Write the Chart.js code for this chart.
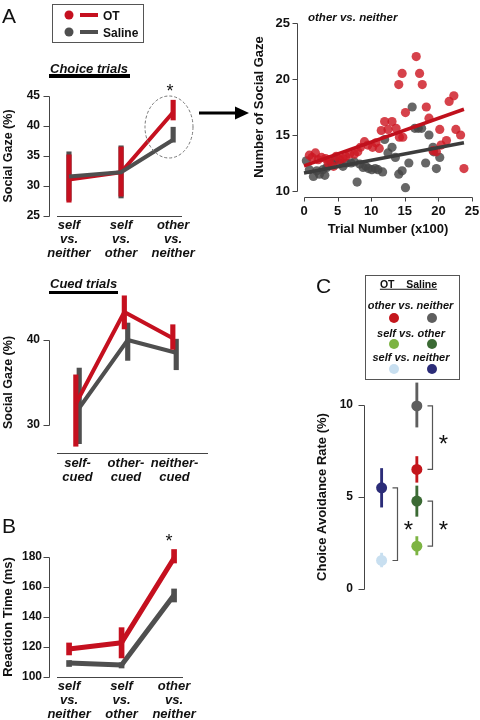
<!DOCTYPE html>
<html>
<head>
<meta charset="utf-8">
<title>Social gaze figure</title>
<script src="https://cdn.jsdelivr.net/npm/chart.js@4.4.1/dist/chart.umd.min.js"></script>
<style>
  html, body { margin: 0; padding: 0; background: #fff; }
  #fig { position: relative; width: 480px; height: 720px; overflow: hidden;
         font-family: 'Liberation Sans', Arial, sans-serif; color: #111; }
  #fig canvas { position: absolute; }
  .t { position: absolute; white-space: nowrap; line-height: 1; transform: translate(-50%, -50%); }
  .t.l { transform: translate(0, -50%); }
  .b { font-weight: bold; }
  .bi { font-weight: bold; font-style: italic; }
  .letter { font-size: 21px; }
  .star { font-size: 18px; }
  .box { position: absolute; border: 1px solid #555; box-sizing: border-box; }
  .dot { position: absolute; width: 10px; height: 10px; border-radius: 50%; transform: translate(-50%, -50%); }
  .rule { position: absolute; }
  svg { position: absolute; left: 0; top: 0; }
</style>
</head>
<body>
<div id="fig">
  <canvas id="choiceChart" width="200" height="190" style="left:0;top:80px"></canvas>
  <canvas id="gazeChart" width="260" height="245" style="left:245px;top:0"></canvas>
  <canvas id="cuedChart" width="225" height="215" style="left:0;top:280px"></canvas>
  <canvas id="rtChart" width="200" height="190" style="left:0;top:530px"></canvas>
  <canvas id="avoidChart" width="160" height="225" style="left:310px;top:375px"></canvas>

  <svg width="480" height="720">
    <ellipse cx="169" cy="127" rx="24" ry="31" fill="none" stroke="#777" stroke-width="1" stroke-dasharray="3 2"/>
    <line x1="199" y1="113" x2="238" y2="113" stroke="#000" stroke-width="3"/>
    <polygon points="235,106.5 249,113 235,119.5" fill="#000"/>
  </svg>

  <!-- panel A -->
  <div class="t letter" style="left:9px;top:15px">A</div>
  <div class="box" style="left:52px;top:4px;width:92px;height:39px"></div>
  <div class="dot" style="left:69px;top:15px;width:9px;height:9px;background:#c5101f"></div>
  <div class="rule" style="left:80px;top:13px;width:18px;height:4px;background:#c5101f"></div>
  <div class="t l b" style="left:103px;top:15.5px;font-size:12px">OT</div>
  <div class="dot" style="left:69px;top:32px;width:9px;height:9px;background:#4f4f4f"></div>
  <div class="rule" style="left:80px;top:30px;width:18px;height:4px;background:#4f4f4f"></div>
  <div class="t l b" style="left:103px;top:32.5px;font-size:12px">Saline</div>

  <div class="t l bi" style="left:50px;top:67.5px;font-size:13px">Choice trials</div>
  <div class="rule" style="left:49px;top:74px;width:81px;height:3.5px;background:#000"></div>
  <div class="t star" style="left:170px;top:91px">*</div>

  <div class="t l bi" style="left:308px;top:17.5px;font-size:11.5px">other vs. neither</div>

  <div class="t l bi" style="left:50px;top:283px;font-size:13px">Cued trials</div>
  <div class="rule" style="left:49px;top:291px;width:69px;height:3px;background:#000"></div>

  <!-- panel B -->
  <div class="t letter" style="left:9px;top:525px">B</div>
  <div class="t star" style="left:169px;top:541px">*</div>

  <!-- panel C -->
  <div class="t letter" style="left:323.5px;top:285px">C</div>
  <div class="box" style="left:365px;top:275px;width:95px;height:105px"></div>
  <div class="t b" style="left:408.5px;top:284px;font-size:10.5px;text-decoration:underline">OT&nbsp;&nbsp;&nbsp;&nbsp;Saline</div>
  <div class="t bi" style="left:410.5px;top:305px;font-size:11px">other vs. neither</div>
  <div class="dot" style="left:394px;top:318px;background:#c4161c"></div>
  <div class="dot" style="left:432px;top:318px;background:#5e5e5e"></div>
  <div class="t bi" style="left:411px;top:333px;font-size:11px">self vs. other</div>
  <div class="dot" style="left:394px;top:344px;background:#7db443"></div>
  <div class="dot" style="left:432px;top:344px;background:#3b6a34"></div>
  <div class="t bi" style="left:411px;top:357px;font-size:11px">self vs. neither</div>
  <div class="dot" style="left:394px;top:369px;background:#c8dff0"></div>
  <div class="dot" style="left:432px;top:369px;background:#2b2c78"></div>
</div>

<script>
// ---- values ----
const choiceCats = [['self', 'vs.', 'neither'], ['self', 'vs.', 'other'], ['other', 'vs.', 'neither']];
const choiceTicks = [25, 30, 35, 40, 45];
const choiceOT = [31.1, 32.3, 42.3];
const choiceOTLo = [27.3, 28.3, 41.0];
const choiceOTHi = [35.2, 36.5, 44.3];
const choiceSal = [31.6, 32.3, 37.7];
const choiceSalLo = [27.6, 28.0, 37.3];
const choiceSalHi = [35.7, 36.7, 39.8];

const cuedCats = [['self-', 'cued'], ['other-', 'cued'], ['neither-', 'cued']];
const cuedTicks = [30, 40];
const cuedOT = [32.5, 43.3, 40.2];
const cuedOTLo = [27.5, 41.3, 38.9];
const cuedOTHi = [35.9, 45.2, 41.8];
const cuedSal = [32.0, 40.0, 38.5];
const cuedSalLo = [27.8, 37.6, 36.5];
const cuedSalHi = [36.7, 42.0, 40.1];

const rtCats = [['self', 'vs.', 'neither'], ['self', 'vs.', 'other'], ['other', 'vs.', 'neither']];
const rtTicks = [100, 120, 140, 160, 180];
const rtOT = [118.7, 122.9, 179.3];
const rtOTLo = [114.7, 112.7, 176.0];
const rtOTHi = [122.7, 132.9, 185.0];
const rtSal = [109.3, 108.0, 154.7];
const rtSalLo = [107.0, 106.0, 150.0];
const rtSalHi = [111.0, 109.5, 158.7];

const gazeXTicks = [0, 5, 10, 15, 20, 25];
const gazeYTicks = [10, 15, 20, 25];
const gazeOTTrial = [0.8, 1.2, 1.7, 2.1, 2.6, 3.2, 3.6, 3.8, 4.4, 4.8, 5.3, 5.8, 6.2, 6.8, 7.5, 8.0,
  8.4, 9.0, 9.5, 10.2, 10.7, 11.2, 11.5, 12.0, 12.5, 13.1, 13.7, 14.1, 14.2, 14.6, 14.7, 15.1,
  16.7, 17.2, 17.6, 18.2, 18.6, 19.2, 19.7, 20.2, 20.4, 21.2, 21.6, 22.3, 22.6, 23.3, 23.8];
const gazeOTCount = [13.2, 13.0, 13.4, 12.8, 13.0, 12.9, 12.5, 12.8, 12.2, 13.1, 12.8, 12.9, 13.1, 13.3, 13.3, 13.5,
  13.9, 14.4, 14.1, 13.9, 14.3, 13.8, 15.4, 16.2, 15.5, 16.2, 15.6, 19.5, 14.8, 20.5, 14.8, 17.0,
  22.0, 20.5, 19.5, 17.5, 16.5, 13.6, 13.5, 15.5, 14.1, 14.5, 18.0, 18.5, 15.5, 15.0, 12.0];
const gazeSalTrial = [0.35, 0.8, 1.4, 1.9, 2.3, 2.8, 3.1, 3.4, 4.1, 4.6, 5.3, 5.8, 6.3, 7.0, 7.5, 7.9,
  8.3, 8.8, 9.2, 9.6, 10.1, 10.6, 11.0, 11.7, 12.0, 12.5, 13.1, 13.6, 14.1, 14.6, 15.1,
  15.6, 16.1, 16.5, 17.0, 17.5, 18.1, 18.6, 19.2, 19.3, 19.7, 20.2];
const gazeSalCount = [12.7, 11.9, 11.3, 11.8, 11.5, 11.9, 11.4, 12.1, 12.5, 12.8, 12.5, 12.2, 12.5, 12.5, 12.6, 10.8,
  12.4, 12.1, 12.2, 12.0, 11.9, 12.0, 11.9, 11.7, 14.6, 13.4, 13.9, 13.0, 11.5, 11.8, 10.3,
  12.5, 17.5, 15.6, 15.6, 15.6, 12.5, 15.0, 13.9, 13.5, 12.0, 13.0];
const gazeFitTrial = [0, 23.8];
const gazeOTFit = [12.25, 17.3];
const gazeSalFit = [11.6, 14.3];

const avoidGroups = ['other vs. neither', 'self vs. other', 'self vs. neither'];
const avoidColumn = [2, 2, 1];
const avoidTicks = [0, 5, 10];
const avoidOT = [6.5, 2.33, 1.55];
const avoidOTLo = [5.8, 1.85, 1.2];
const avoidOTHi = [7.2, 2.85, 1.95];
const avoidSal = [9.95, 4.78, 5.5];
const avoidSalLo = [8.8, 3.95, 4.45];
const avoidSalHi = [11.2, 5.6, 6.55];

// ---- styling ----
const RED = '#c5101f';
const GREY = '#4f4f4f';
const avoidColorsOT = ['#c4161c', '#7db443', '#c8dff0'];
const avoidColorsSal = ['#5e5e5e', '#3b6a34', '#2b2c78'];

Chart.defaults.font.family = "'Liberation Sans', Arial, sans-serif";
Chart.defaults.color = '#111';
Chart.defaults.animation = false;
Chart.defaults.events = [];
Chart.defaults.plugins.legend.display = false;
Chart.defaults.plugins.tooltip.enabled = false;

// R-style axes: y line only between first and last tick, x line detached
const rAxes = {
  id: 'rAxes',
  afterDraw(chart, args, opts) {
    const { ctx, chartArea: area, scales } = chart;
    ctx.save();
    ctx.strokeStyle = '#444';
    ctx.lineWidth = 1;
    ctx.beginPath();
    if (opts.y) {
      const s = scales.y;
      const x = Math.round(area.left - opts.y.gap) + 0.5;
      const ys = s.ticks.map(t => Math.round(s.getPixelForValue(t.value)) + 0.5);
      ctx.moveTo(x, Math.min(...ys));
      ctx.lineTo(x, Math.max(...ys));
      ys.forEach(y => { ctx.moveTo(x, y); ctx.lineTo(x - opts.y.tick, y); });
    }
    if (opts.x) {
      const s = scales.x;
      const y = Math.round(area.bottom + opts.x.gap) + 0.5;
      if (opts.x.tick) {
        const xs = s.ticks.map(t => Math.round(s.getPixelForValue(t.value)) + 0.5);
        ctx.moveTo(Math.min(...xs), y);
        ctx.lineTo(Math.max(...xs), y);
        xs.forEach(x => { ctx.moveTo(x, y); ctx.lineTo(x, y + opts.x.tick); });
      } else {
        ctx.moveTo(area.left, y);
        ctx.lineTo(area.right, y);
      }
    }
    ctx.stroke();
    ctx.restore();
  }
};

// significance brackets for panel C
const brackets = {
  id: 'brackets',
  afterDatasetsDraw(chart, args, opts) {
    const { ctx, scales: { x, y } } = chart;
    ctx.save();
    ctx.strokeStyle = '#555';
    ctx.lineWidth = 1.2;
    ctx.fillStyle = '#111';
    ctx.font = "24px 'Liberation Sans', Arial, sans-serif";
    ctx.textAlign = 'center';
    ctx.textBaseline = 'alphabetic';
    opts.items.forEach(it => {
      const px = Math.round(x.getPixelForValue(it.x) + opts.dx) + 0.5;
      const ya = y.getPixelForValue(it.a);
      const yb = y.getPixelForValue(it.b);
      ctx.beginPath();
      ctx.moveTo(px - opts.arm, ya);
      ctx.lineTo(px, ya);
      ctx.lineTo(px, yb);
      ctx.lineTo(px - opts.arm, yb);
      ctx.stroke();
      ctx.fillText('*', px + opts.starDx, (ya + yb) / 2 + 14);
    });
    ctx.restore();
  }
};

function noPad(s) {
  s.paddingTop = 0; s.paddingBottom = 0; s.paddingLeft = 0; s.paddingRight = 0;
}

function yAxis(ticks, title, o) {
  return {
    type: 'linear',
    min: ticks[0], max: ticks[ticks.length - 1],
    afterBuildTicks: s => { s.ticks = ticks.map(v => ({ value: v })); },
    afterFit: s => { s.width = o.width; noPad(s); },
    grid: { display: false, drawTicks: false },
    border: { display: false },
    ticks: { padding: o.pad, color: '#111', font: { size: o.size || 12, weight: 'bold' } },
    title: { display: true, text: title, color: '#111',
      font: { size: o.titleSize || 13, weight: 'bold' }, padding: { top: o.titlePad, bottom: 0 } }
  };
}

function catAxis(labels, o) {
  return {
    type: 'linear', min: o.min, max: o.max, offset: false,
    afterBuildTicks: s => { s.ticks = labels.map((_, i) => ({ value: i + 1 })); },
    afterFit: s => { s.height = o.height; noPad(s); },
    grid: { display: false, drawTicks: false, offset: false },
    border: { display: false },
    ticks: { padding: o.pad, autoSkip: false, maxRotation: 0, minRotation: 0, color: '#111',
      font: { size: 13, weight: 'bold', style: 'italic', lineHeight: 1.05 },
      callback: v => labels[Math.round(v) - 1] }
  };
}

function meanLine(ys, color, width, order, shift) {
  return { type: 'line', data: ys.map((y, i) => ({ x: i + 1 + (shift || 0), y })),
    borderColor: color, borderWidth: width, borderJoinStyle: 'round',
    pointRadius: 0, clip: false, order };
}

function errBars(lo, hi, color, width, order, shift) {
  return { type: 'bar', data: lo.map((l, i) => ({ x: i + 1 + (shift || 0), y: [l, hi[i]] })),
    backgroundColor: color, barThickness: width, grouped: false, clip: false, order };
}

// ---- A: choice trials ----
new Chart(document.getElementById('choiceChart'), {
  type: 'line',
  data: { datasets: [
    meanLine(choiceOT, RED, 4, 1),
    errBars(choiceOTLo, choiceOTHi, RED, 4.5, 2),
    meanLine(choiceSal, GREY, 4, 0),
    errBars(choiceSalLo, choiceSalHi, GREY, 4.5, 3)
  ] },
  options: {
    responsive: false,
    layout: { padding: { top: 16, right: 18, left: 0, bottom: 0 } },
    scales: {
      x: catAxis(choiceCats, { min: 0.77, max: 3.17, height: 54, pad: 3 }),
      y: yAxis(choiceTicks, 'Social Gaze (%)', { width: 57, pad: 17, titleSize: 12.5, titlePad: 1 })
    },
    plugins: { rAxes: { y: { gap: 8, tick: 6 }, x: { gap: 0 } } }
  },
  plugins: [rAxes]
});

// ---- A: cued trials ----
new Chart(document.getElementById('cuedChart'), {
  type: 'line',
  data: { datasets: [
    meanLine(cuedOT, RED, 4, 0, -0.035),
    errBars(cuedOTLo, cuedOTHi, RED, 4.5, 1, -0.035),
    meanLine(cuedSal, GREY, 4, 2, 0.035),
    errBars(cuedSalLo, cuedSalHi, GREY, 4.5, 3, 0.035)
  ] },
  options: {
    responsive: false,
    layout: { padding: { top: 60, right: 17, left: 0, bottom: 0 } },
    scales: {
      x: catAxis(cuedCats, { min: 0.577, max: 3.69, height: 70, pad: 32 }),
      y: yAxis(cuedTicks, 'Social Gaze (%)', { width: 57, pad: 17, titleSize: 12.5, titlePad: 1 })
    },
    plugins: { rAxes: { y: { gap: 8, tick: 6 }, x: { gap: 28 } } }
  },
  plugins: [rAxes]
});

// ---- B: reaction time ----
new Chart(document.getElementById('rtChart'), {
  type: 'line',
  data: { datasets: [
    meanLine(rtOT, RED, 5, 0),
    errBars(rtOTLo, rtOTHi, RED, 5, 1),
    meanLine(rtSal, GREY, 5, 2),
    errBars(rtSalLo, rtSalHi, GREY, 5, 3)
  ] },
  options: {
    responsive: false,
    layout: { padding: { top: 27, right: 17, left: 0, bottom: 0 } },
    scales: {
      x: catAxis(rtCats, { min: 0.77, max: 3.17, height: 43, pad: 3 }),
      y: yAxis(rtTicks, 'Reaction Time (ms)', { width: 57, pad: 15, titlePad: 0.5 })
    },
    plugins: { rAxes: { y: { gap: 8, tick: 6 }, x: { gap: 0 } } }
  },
  plugins: [rAxes]
});

// ---- A: social gaze over trials ----
const toPts = (xs, ys) => xs.map((x, i) => ({ x, y: ys[i] }));
new Chart(document.getElementById('gazeChart'), {
  type: 'scatter',
  data: { datasets: [
    { type: 'line', data: toPts(gazeFitTrial, gazeOTFit), borderColor: '#c0101c', borderWidth: 3.5,
      pointRadius: 0, clip: false, order: 0 },
    { type: 'line', data: toPts(gazeFitTrial, gazeSalFit), borderColor: '#3c3c3c', borderWidth: 3.5,
      pointRadius: 0, clip: false, order: 1 },
    { data: toPts(gazeOTTrial, gazeOTCount), backgroundColor: 'rgba(205, 25, 35, 0.82)',
      borderWidth: 0, pointRadius: 4.6, clip: false, order: 2 },
    { data: toPts(gazeSalTrial, gazeSalCount), backgroundColor: 'rgba(70, 70, 70, 0.82)',
      borderWidth: 0, pointRadius: 4.6, clip: false, order: 3 }
  ] },
  options: {
    responsive: false,
    layout: { padding: { top: 23, right: 33, left: 0, bottom: 0 } },
    scales: {
      x: {
        type: 'linear', min: 0, max: 25, offset: false,
        afterBuildTicks: s => { s.ticks = gazeXTicks.map(v => ({ value: v })); },
        afterFit: s => { s.height = 54; noPad(s); },
        grid: { display: false, drawTicks: false },
        border: { display: false },
        ticks: { padding: 13, color: '#111', font: { size: 13, weight: 'bold' } },
        title: { display: true, text: 'Trial Number (x100)', color: '#111',
          font: { size: 13, weight: 'bold' }, padding: { top: 0, bottom: 8 } }
      },
      y: yAxis(gazeYTicks, 'Number of Social Gaze', { width: 59, pad: 14, size: 13, titlePad: 7 })
    },
    plugins: { rAxes: { y: { gap: 7, tick: 5 }, x: { gap: 6, tick: 4 } } }
  },
  plugins: [rAxes]
});

// ---- C: choice avoidance ----
const avoidPos = (vals) => vals.map((v, i) => ({ x: avoidColumn[i], y: v }));
const avoidBars = (lo, hi) => lo.map((l, i) => ({ x: avoidColumn[i], y: [l, hi[i]] }));
new Chart(document.getElementById('avoidChart'), {
  type: 'scatter',
  data: { datasets: [
    { data: avoidPos(avoidOT), backgroundColor: avoidColorsOT, borderWidth: 0, pointRadius: 5.5, clip: false, order: 0 },
    { data: avoidPos(avoidSal), backgroundColor: avoidColorsSal, borderWidth: 0, pointRadius: 5.5, clip: false, order: 1 },
    { type: 'bar', data: avoidBars(avoidOTLo, avoidOTHi), backgroundColor: avoidColorsOT,
      barThickness: 2.2, grouped: false, clip: false, order: 2 },
    { type: 'bar', data: avoidBars(avoidSalLo, avoidSalHi), backgroundColor: avoidColorsSal,
      barThickness: 2.2, grouped: false, clip: false, order: 3 }
  ] },
  options: {
    responsive: false,
    layout: { padding: { top: 30, right: 28.5, left: 0, bottom: 11 } },
    scales: {
      x: { type: 'linear', display: false, min: 0.5, max: 2.7, offset: false },
      y: yAxis(avoidTicks, 'Choice Avoidance Rate (%)', { width: 54, pad: 11, titlePad: 5 })
    },
    plugins: {
      rAxes: { y: { gap: 0, tick: 6 } },
      brackets: {
        dx: 15, arm: 5, starDx: 11,
        items: avoidGroups.map((g, i) => ({ x: avoidColumn[i], a: avoidSal[i], b: avoidOT[i] }))
      }
    }
  },
  plugins: [rAxes, brackets]
});
</script>
</body>
</html>
